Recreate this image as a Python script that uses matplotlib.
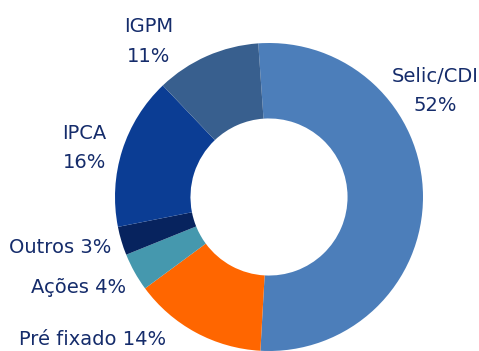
import numpy as np
import matplotlib
matplotlib.use('Agg')
import matplotlib.pyplot as plt
import matplotlib.patheffects as pe

# carteira por indexador (%)
labels = ['Selic/CDI', 'Pré fixado', 'Ações', 'Outros', 'IPCA', 'IGPM']
shares = [52, 14, 4, 3, 16, 11]
colors = ['#4C7EBA', '#FF6600', '#4598AE', '#07235E', '#0B3D94', '#385F8E']

text_color = '#152C6B'
W, H = 479, 351

fig = plt.figure(figsize=(W / 100, H / 100), dpi=100)
ax = fig.add_axes([0, 0, 1, 1])

cx, cy, r = 269, H - 197, 154
wedges, _ = ax.pie(shares, colors=colors, startangle=94, counterclock=False,
                   center=(cx, cy), radius=r, frame=True,
                   wedgeprops=dict(width=r * 0.49, linewidth=0))
for w in wedges:
    w.set_path_effects([pe.SimpleLineShadow(offset=(1.5, -1.5), alpha=0.25), pe.Normal()])
ax.set_xlim(0, W)
ax.set_ylim(0, H)
ax.set_aspect('equal')
ax.axis('off')

font = dict(fontsize=14, color=text_color, family='DejaVu Sans', va='baseline')
ax.text(148.5, H - 32, labels[5], ha='center', **font)
ax.text(149, H - 62, '%d%%' % shares[5], ha='center', **font)
ax.text(435, H - 82, labels[0], ha='center', **font)
ax.text(435, H - 111, '%d%%' % shares[0], ha='center', **font)
ax.text(84.5, H - 139, labels[4], ha='center', **font)
ax.text(84.5, H - 168, '%d%%' % shares[4], ha='center', **font)
ax.text(111, H - 253, '%s %d%%' % (labels[3], shares[3]), ha='right', **font)
ax.text(126, H - 293, '%s %d%%' % (labels[2], shares[2]), ha='right', **font)
ax.text(166, H - 345, '%s %d%%' % (labels[1], shares[1]), ha='right', **font)

fig.savefig('out.png', dpi=100)
